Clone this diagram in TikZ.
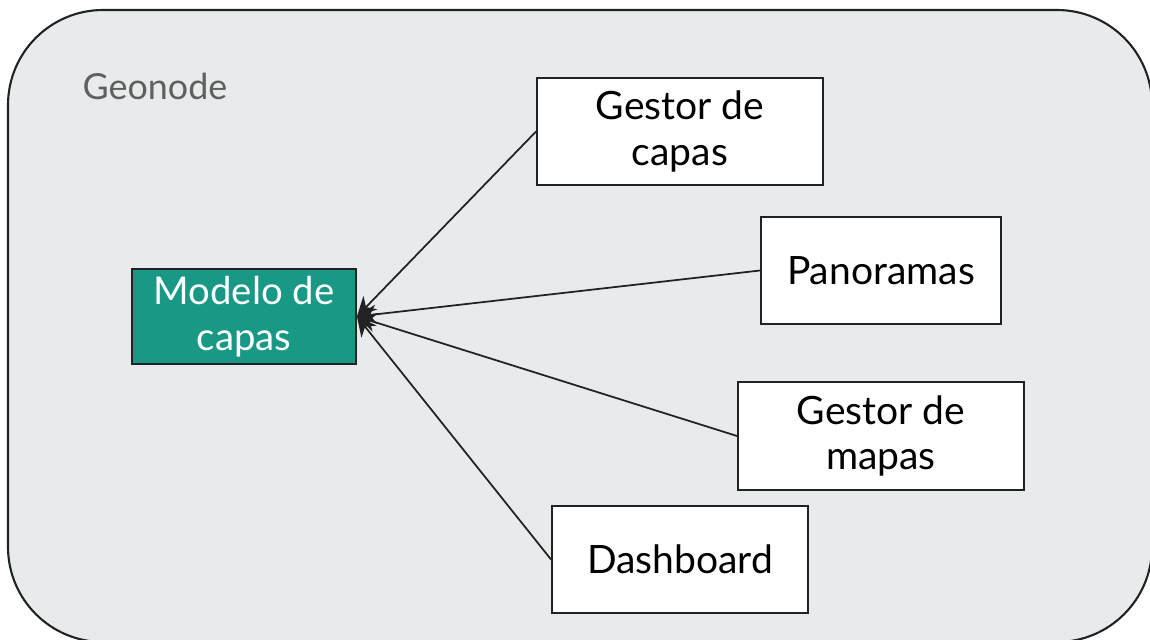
\documentclass[tikz,border=0pt]{standalone}
\usepackage{fontspec}
\setmainfont{Lato}
\usetikzlibrary{arrows.meta}
\definecolor{bgfill}{HTML}{E8EBEC}
\definecolor{teal1}{HTML}{199885}
\definecolor{labgray}{HTML}{5F5F5F}
\definecolor{edge}{HTML}{222222}
\tikzset{
  box/.style={draw=edge, line width=0.5pt, fill=white, inner sep=0pt, align=center,
    font=\fontsize{11.1pt}{13pt}\selectfont, text=black},
  conn/.style={draw=edge, line width=0.5pt, -{Stealth[length=5.5pt,width=5.5pt]}},
}
\begin{document}
\begin{tikzpicture}[x=0.01cm,y=-0.01cm]
\useasboundingbox (0,0) rectangle (1150,640);
\begin{scope}
\clip (0,0) rectangle (1150,640);
\draw[draw=edge, line width=0.6pt, fill=bgfill, rounded corners=0.95cm] (8,10) rectangle (1152,642);
\end{scope}
\node[anchor=base west, text=labgray, font=\fontsize{10.2pt}{12pt}\selectfont, inner sep=0pt] (geo) at (82,100) {Geonode};
\node[box, fill=teal1, text=white, font=\fontsize{10.9pt}{13pt}\selectfont, minimum width=2.24cm, minimum height=0.95cm] (model) at (244,316.5) {Modelo de\\capas};
\node[box, minimum width=2.86cm, minimum height=1.07cm] (gcapas) at (680,131.5) {Gestor de\\capas};
\node[box, minimum width=2.40cm, minimum height=1.07cm] (pano) at (881,270.5) {Panoramas};
\node[box, minimum width=2.86cm, minimum height=1.08cm] (gmapas) at (881,436) {Gestor de\\mapas};
\node[box, minimum width=2.56cm, minimum height=1.07cm] (dash) at (680,559.5) {Dashboard};
\draw[conn] (gcapas.west) -- (model.east);
\draw[conn] (pano.west) -- (model.east);
\draw[conn] (gmapas.west) -- (model.east);
\draw[conn] (dash.west) -- (model.east);
\end{tikzpicture}
\end{document}
